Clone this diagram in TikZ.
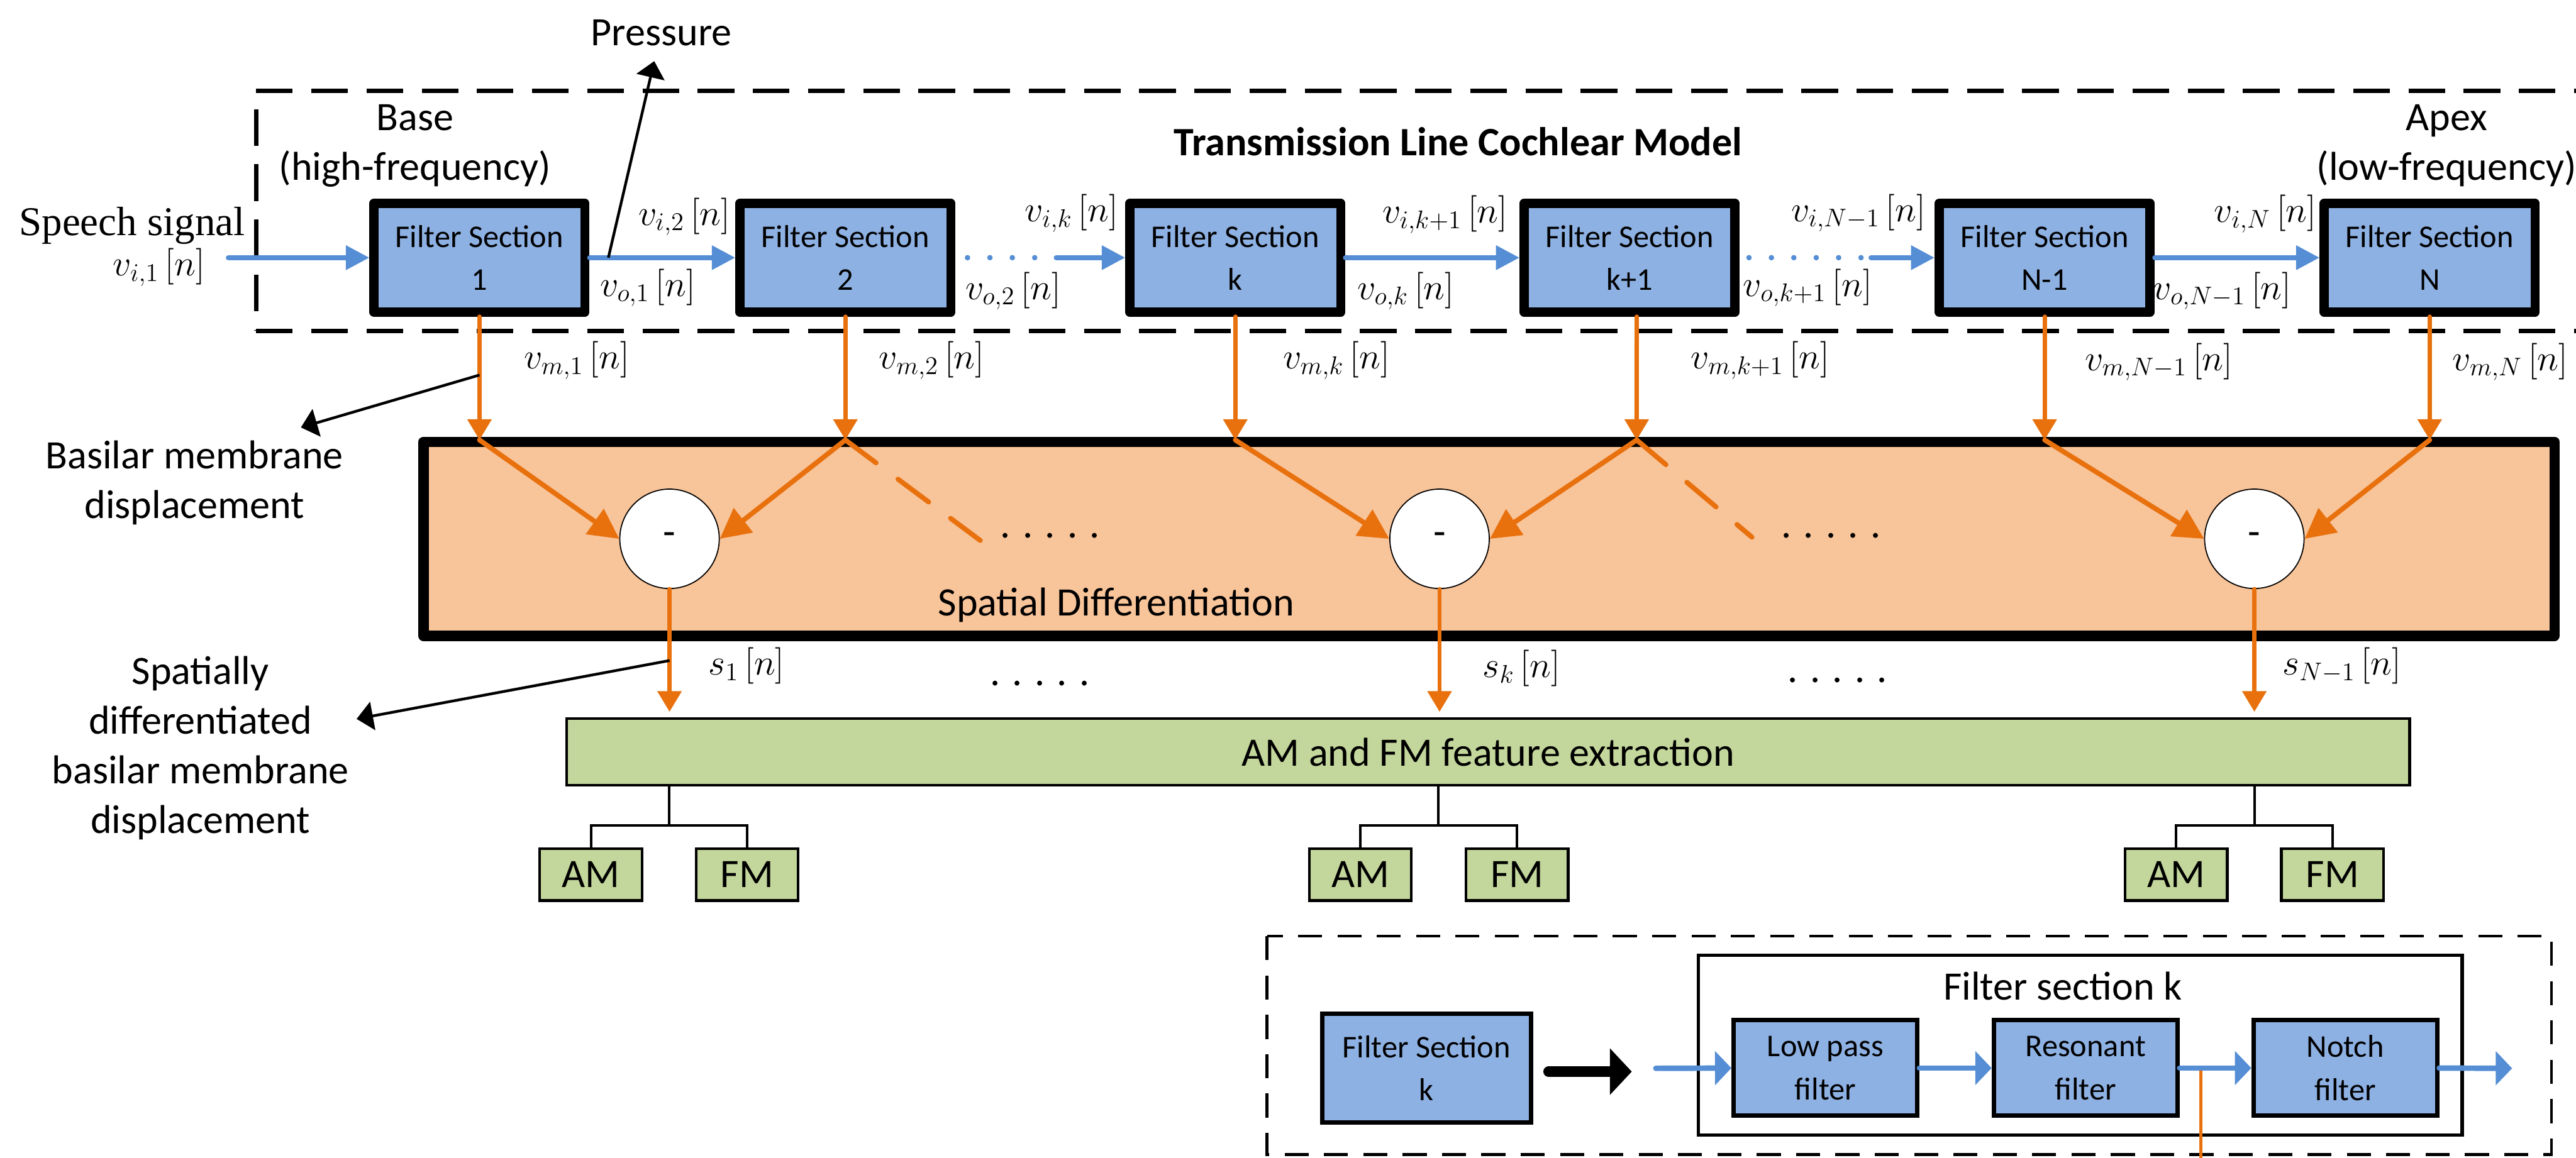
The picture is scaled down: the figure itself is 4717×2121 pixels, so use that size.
\RequirePackage{fix-cm}
\documentclass[tikz,border=0pt]{standalone}
\usepackage{fontspec}
\setmainfont{Carlito}
\newfontfamily\timesfont{Liberation Serif}
\usetikzlibrary{arrows.meta}
\definecolor{boxblue}{HTML}{8EB1E3}
\definecolor{arrowblue}{HTML}{558ED5}
\definecolor{orng}{HTML}{E8710E}
\definecolor{peach}{HTML}{F8C49A}
\definecolor{featgreen}{HTML}{C3D69B}
\tikzset{
  lbl/.style={inner sep=0pt, font=\fontsize{21}{25.9}\selectfont, align=center},
  mlbl/.style={inner sep=0pt, font=\fontsize{19}{23}\selectfont},
  fsbox/.style={draw=black, line width=0.17cm, line join=round, fill=boxblue, minimum width=3.86cm, minimum height=1.99cm, inner sep=0pt, align=center, font=\fontsize{16.5}{22.2}\selectfont},
  sdbox/.style={draw=black, line width=0.19cm, line join=round, fill=peach, minimum width=39cm, minimum height=3.55cm, inner sep=0pt},
  diffnode/.style={circle, draw=black, line width=0.02cm, fill=white, minimum size=1.82cm, inner sep=0pt, font=\fontsize{21}{25}\selectfont},
  featbox/.style={draw=black, line width=0.05cm, fill=featgreen, minimum width=33.73cm, minimum height=1.22cm, inner sep=0pt, font=\fontsize{21}{25}\selectfont},
  amfm/.style={draw=black, line width=0.05cm, fill=featgreen, minimum width=1.87cm, minimum height=0.95cm, inner sep=0pt, font=\fontsize{21}{25}\selectfont},
  tree/.style={draw=black, line width=0.045cm},
  blarrow/.style={draw=arrowblue, line width=0.09cm, line cap=round, -{Triangle[length=0.43cm,width=0.43cm]}},
  bldots/.style={draw=arrowblue, line width=0.1cm, line cap=round, dash pattern=on 0pt off 0.41cm},
  oarrow/.style={draw=orng, line width=0.08cm, line cap=round, -{Triangle[length=0.38cm,width=0.43cm]}},
  odiag/.style={draw=orng, line width=0.09cm, line cap=round, -{Triangle[length=0.55cm,width=0.55cm]}},
  odash/.style={draw=orng, line width=0.09cm, line cap=round, dash pattern=on 0.7cm off 0.5cm},
  annot/.style={draw=black, line width=0.05cm, -{Triangle[length=0.3cm,width=0.52cm]}},
  topdash/.style={draw=black, line width=0.08cm, dash pattern=on 0.67cm off 0.34cm},
  insetdash/.style={draw=black, line width=0.05cm, dash pattern=on 0.44cm off 0.28cm},
  subbox/.style={draw=black, line width=0.08cm, fill=boxblue, minimum width=3.36cm, minimum height=1.75cm, inner sep=0pt, align=center, font=\fontsize{16.5}{22.5}\selectfont},
  contbox/.style={draw=black, line width=0.06cm, minimum width=13.98cm, minimum height=3.29cm, inner sep=0pt},
  iarrow/.style={draw=arrowblue, line width=0.1cm, line cap=round, -{Triangle[length=0.3cm,width=0.61cm]}},
  bigarrow/.style={draw=black, line width=0.2cm, line cap=round, -{Triangle[length=0.4cm,width=0.83cm]}},
  oline/.style={draw=orng, line width=0.05cm}
}
\begin{document}
\begin{tikzpicture}[x=0.01cm,y=-0.01cm]
\useasboundingbox (0,0) rectangle (4717,2121);
\clip (0,0) rectangle (4717,2121);

% ---- top dashed frame
\draw[topdash] (469,166) -- (4800,166);
\draw[topdash] (469,606) -- (4800,606);
\draw[topdash] (469,200) -- (469,606);

% ---- titles and annotations
\node[lbl] (base) at (760,267) {Base\\(high-frequency)};
\node[lbl] (apex) at (4480,267) {Apex\\(low-frequency)};
\node[inner sep=0pt, font=\fontsize{21}{25.9}\selectfont\bfseries, anchor=base] (title) at (2670,285) {Transmission Line Cochlear Model};
\node[lbl, anchor=base] (press) at (1211,83) {Pressure};
\node[inner sep=0pt, font=\fontsize{21.3}{26}\timesfont, anchor=base] (speech) at (242,431) {Speech signal};

% ---- filter sections
\node[fsbox] (b1) at (878,472) {Filter Section\\1};
\node[fsbox] (b2) at (1548,472) {Filter Section\\2};
\node[fsbox] (b3) at (2262,472) {Filter Section\\k};
\node[fsbox] (b4) at (2984,472) {Filter Section\\k+1};
\node[fsbox] (b5) at (3744,472) {Filter Section\\N-1};
\node[fsbox] (b6) at (4449,472) {Filter Section\\N};

% ---- signal labels
\node[mlbl] (vi1) at (291,490) {$v_{i,1}\,[n]$};
\node[mlbl] (vi2) at (1253,397) {$v_{i,2}\,[n]$};
\node[mlbl] (vo1) at (1186,527) {$v_{o,1}\,[n]$};
\node[mlbl] (vik) at (1962,391) {$v_{i,k}\,[n]$};
\node[mlbl] (vo2) at (1855,533) {$v_{o,2}\,[n]$};
\node[mlbl] (vik1) at (2646,393) {$v_{i,k+1}\,[n]$};
\node[mlbl] (vok) at (2574,533) {$v_{o,k}\,[n]$};
\node[mlbl] (viN1) at (3403,390) {$v_{i,N-1}\,[n]$};
\node[mlbl] (vok1) at (3310,527) {$v_{o,k+1}\,[n]$};
\node[mlbl] (viN) at (4148,392) {$v_{i,N}\,[n]$};
\node[mlbl] (voN1) at (4069,533) {$v_{o,N-1}\,[n]$};
\node[mlbl] (vm1) at (1056,660) {$v_{m,1}\,[n]$};
\node[mlbl] (vm2) at (1706,660) {$v_{m,2}\,[n]$};
\node[mlbl] (vmk) at (2447,660) {$v_{m,k}\,[n]$};
\node[mlbl] (vmk1) at (3223,660) {$v_{m,k+1}\,[n]$};
\node[mlbl] (vmN1) at (3953,663) {$v_{m,N-1}\,[n]$};
\node[mlbl, anchor=west] (vmN) at (4490,663) {$v_{m,N}\,[n]$};

% ---- blue chain
\coordinate (sin) at (418,472);
\coordinate (d1) at (1934,472);
\coordinate (d2) at (3426,472);
\draw[blarrow] (sin) -- (b1.west);
\draw[blarrow] (b1.east) -- (b2.west);
\draw[bldots] ([xshift=0.22cm]b2.east) -- (d1);
\draw[blarrow] (d1) -- (b3.west);
\draw[blarrow] (b3.east) -- (b4.west);
\draw[bldots] ([xshift=0.17cm]b4.east) -- (d2);
\draw[blarrow] (d2) -- (b5.west);
\draw[blarrow] (b5.east) -- (b6.west);

% pressure annotation
\coordinate (p1) at (1114,472);
\coordinate (p2) at (1198,112);
\draw[annot] (p1) -- (p2);

% ---- spatial differentiation
\node[sdbox] (sd) at (2726.5,987) {};
\node[lbl] (sdl) at (2044,1108) {Spatial Differentiation};
\node[diffnode] (c1) at (1226,987) {-};
\node[diffnode] (ck) at (2636,987) {-};
\node[diffnode] (cN) at (4128,987) {-};

\coordinate (j1) at (878,806);
\coordinate (j2) at (1548,806);
\coordinate (j3) at (2262,806);
\coordinate (j4) at (2997,806);
\coordinate (j5) at (3744,806);
\coordinate (j6) at (4449,806);
\coordinate (e1) at (1795,990);
\coordinate (e2) at (3208,984);

\draw[oarrow] (b1.south) -- (j1);
\draw[oarrow] (b2.south) -- (j2);
\draw[oarrow] (b3.south) -- (j3);
\draw[oarrow] ([xshift=0.13cm]b4.south) -- (j4);
\draw[oarrow] (b5.south) -- (j5);
\draw[oarrow] (b6.south) -- (j6);

\draw[odiag] (j1) -- (c1.west);
\draw[odiag] (j2) -- (c1.east);
\draw[odiag] (j3) -- (ck.west);
\draw[odiag] (j4) -- (ck.east);
\draw[odiag] (j5) -- (cN.west);
\draw[odiag] (j6) -- (cN.east);
\draw[odash] (j2) -- (e1);
\draw[odash] (j4) -- (e2);

\node[lbl, anchor=base] (dots1) at (1923,985) {. . . . .};
\node[lbl, anchor=base] (dots2) at (3353,985) {. . . . .};

% ---- outputs
\coordinate (o1) at (1226,1304);
\coordinate (o2) at (2636,1304);
\coordinate (o3) at (4128,1304);
\draw[oarrow] (c1.south) -- (o1);
\draw[oarrow] (ck.south) -- (o2);
\draw[oarrow] (cN.south) -- (o3);
\node[mlbl] (s1) at (1367,1220) {$s_{1}\,[n]$};
\node[mlbl] (sk) at (2786,1224) {$s_{k}\,[n]$};
\node[mlbl] (sN1) at (4288,1220) {$s_{N-1}\,[n]$};
\node[lbl, anchor=base] (dots3) at (1904,1256) {. . . . .};
\node[lbl, anchor=base] (dots4) at (3365,1250) {. . . . .};

% ---- feature extraction
\node[featbox] (fe) at (2725,1377.5) {AM and FM feature extraction};
\node[amfm] (am1) at (1082,1602) {AM};
\node[amfm] (fm1) at (1368,1602) {FM};
\node[amfm] (am2) at (2491,1602) {AM};
\node[amfm] (fm2) at (2778,1602) {FM};
\node[amfm] (am3) at (3985,1602) {AM};
\node[amfm] (fm3) at (4271,1602) {FM};
\coordinate (g1) at (1225,1512);
\coordinate (g2) at (2634,1512);
\coordinate (g3) at (4128,1512);
\draw[tree] (fe.south -| g1) -- (g1);
\draw[tree] (fe.south -| g2) -- (g2);
\draw[tree] (fe.south -| g3) -- (g3);
\draw[tree] (am1.north) |- (g1) -| (fm1.north);
\draw[tree] (am2.north) |- (g2) -| (fm2.north);
\draw[tree] (am3.north) |- (g3) -| (fm3.north);

% ---- side annotations
\coordinate (a1) at (878,687);
\coordinate (a2) at (551,783);
\coordinate (a3) at (1226,1210);
\coordinate (a4) at (653,1317);
\draw[annot] (a1) -- (a2);
\draw[annot] (a3) -- (a4);
\node[lbl] (bmd) at (356,884) {Basilar membrane\\displacement};
\node[lbl] (sdbmd) at (367,1370) {Spatially\\differentiated\\basilar membrane\\displacement};

% ---- inset: filter section detail
\draw[insetdash] (2320,1715) rectangle (4672,2115);
\node[subbox, minimum width=3.82cm, minimum height=1.99cm] (fsk) at (2612,1956.5) {Filter Section\\k};
\node[contbox] (cont) at (3809,1914.5) {};
\node[lbl] (contt) at (3777,1806) {Filter section k};
\node[subbox] (lp) at (3342.5,1956.5) {Low pass\\filter};
\node[subbox] (res) at (3819,1956.5) {Resonant\\filter};
\node[subbox] (notch) at (4294.5,1956.5) {Notch\\filter};
\coordinate (bi1) at (2836,1963);
\coordinate (bi2) at (2988,1963);
\draw[bigarrow] (bi1) -- (bi2);
\coordinate (q1) at (4030,1957);
\coordinate (q2) at (4030,2130);
\draw[oline] (q1) -- (q2);
\coordinate (ii) at (3032,1957);
\coordinate (io) at (4600,1957);
\draw[iarrow] (ii) -- (lp.west);
\draw[iarrow] (lp.east) -- (res.west);
\draw[iarrow] (res.east) -- (notch.west);
\draw[iarrow] (notch.east) -- (io);
\end{tikzpicture}
\end{document}
